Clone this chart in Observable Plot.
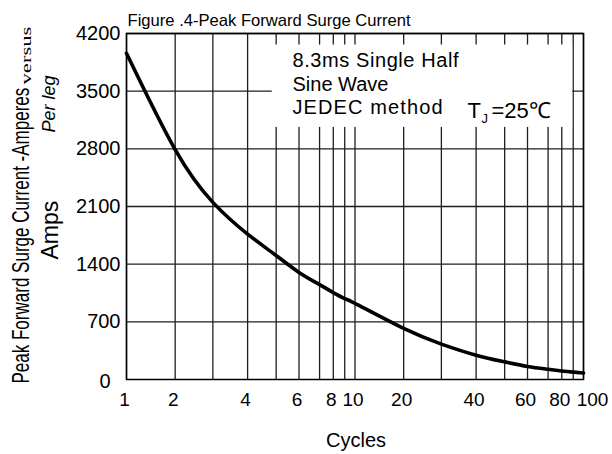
<!DOCTYPE html>
<html><head><meta charset="utf-8">
<script src="https://cdn.jsdelivr.net/npm/d3@7"></script>
<script src="https://cdn.jsdelivr.net/npm/@observablehq/plot@0.6"></script>
<style>body{margin:0;background:#fff}#chart svg{display:block}</style>
</head><body><div id="chart"></div>
<script>
// ---- data ----
const cycles = [1, 2, 3, 4, 5, 6, 7, 8, 9, 10, 20, 30, 40, 50, 60, 70, 80, 90, 100];
const amps   = [3960, 2790, 2150, 1765, 1505, 1300, 1152, 1055, 982, 925, 620, 430, 295, 214, 159, 125, 104, 90, 79];
const xGridTicks = [1, 2, 3, 4, 5, 6, 7, 8, 9, 10, 20, 30, 40, 50, 60, 70, 80, 90, 100];
const xTickLabels = [1, 2, 4, 6, 8, 10, 20, 40, 60, 80];
const xLastLabel = [100];
const yTicks = [700, 1400, 2100, 2800, 3500, 4200];
const yZero = [0];
const titleText = "Figure .4-Peak Forward Surge Current";
const yLabelMain = "Peak Forward Surge Current -Amperes";
const yLabelVs = "versus";
const yLabel2 = "Per leg";
const yLabel3 = "Amps";
const xLabel = "Cycles";
const noteLines = ["8.3ms Single Half", "Sine Wave", "JEDEC method"];
const noteBox = [{x1: 4.85, x2: 89.5, y1: 3060, y2: 4060}];

// ---- layout / scale config ----
const W = 612, H = 454, mL = 126, mR = 29, mT = 33, mB = 75;
const decadeW = (W - mL - mR) / 2;
// the reference's cycle-axis spacing inside each decade (fraction of a decade)
const decadeFrac = [0, 0.213, 0.378, 0.53, 0.655, 0.755, 0.845, 0.905, 0.955];
const xRange = xGridTicks.map(v => {
  const d = Math.floor(Math.log10(v) + 1e-9);
  const m = Math.round(v / 10 ** d);
  return mL + (d + decadeFrac[m - 1]) * decadeW;
});

const sans = "'Liberation Sans', Arial, Helvetica, sans-serif";
const gridStyle = {stroke: "#1e1e1e", strokeOpacity: 1, strokeWidth: 1.3};
const txt = (s, o) => Plot.text([s], {text: d => d, fill: "black", lineAnchor: "bottom", ...o});

const rows = cycles.map((c, i) => ({c, a: amps[i]}));

const chart = Plot.plot({
  width: W, height: H, marginLeft: mL, marginRight: mR, marginTop: mT, marginBottom: mB,
  style: {fontFamily: sans, background: "white", color: "black", overflow: "visible"},
  x: {type: "log", domain: xGridTicks, range: xRange, axis: null},
  y: {domain: [0, 4200], axis: null},
  marks: [
    Plot.gridX(xGridTicks, gridStyle),
    Plot.gridY(yTicks, gridStyle),
    Plot.rect(noteBox, {x1: "x1", x2: "x2", y1: "y1", y2: "y2", fill: "white"}),
    Plot.frame({stroke: "black", strokeWidth: 1.5}),
    Plot.line(rows, {x: "c", y: "a", stroke: "black", strokeWidth: 3.6, curve: "natural"}),
    Plot.axisY(yTicks, {tickSize: 0, tickPadding: 6, fontSize: 20, tickFormat: d => String(d), label: null}),
    Plot.axisY(yZero, {tickSize: 0, tickPadding: 16, fontSize: 20, dy: 2, tickFormat: d => String(d), label: null}),
    Plot.text(xTickLabels, {x: d => d, text: d => String(d), frameAnchor: "bottom", lineAnchor: "bottom", dy: 26, dx: -2, fontSize: 19, fill: "black"}),
    Plot.text(xLastLabel, {x: d => d, text: d => String(d), frameAnchor: "bottom", lineAnchor: "bottom", dy: 26, dx: 9, fontSize: 19, fill: "black"}),
    txt(titleText, {frameAnchor: "top-left", dx: 1, dy: -8, fontSize: 16.6, textAnchor: "start"}),
    txt(xLabel, {frameAnchor: "bottom", dx: 1, dy: 67, fontSize: 20}),
    txt(yLabelMain, {frameAnchor: "bottom-left", dx: -98, dy: 4, rotate: -90, fontSize: 23, textAnchor: "start"}),
    txt(yLabelVs, {frameAnchor: "bottom-left", dx: -96, dy: -295, rotate: -90, fontSize: 15, textAnchor: "start", fontFamily: "'Liberation Serif', 'Times New Roman', serif"}),
    txt(yLabel2, {frameAnchor: "bottom-left", dx: -72, dy: -247, rotate: -90, fontSize: 18, fontStyle: "italic"}),
    txt(yLabel3, {frameAnchor: "bottom-left", dx: -69, dy: -120, rotate: -90, fontSize: 23}),
    txt(noteLines[0], {frameAnchor: "top-left", dx: 166, dy: 33, fontSize: 20, textAnchor: "start"}),
    txt(noteLines[1], {frameAnchor: "top-left", dx: 166, dy: 57, fontSize: 20, textAnchor: "start"}),
    txt(noteLines[2], {frameAnchor: "top-left", dx: 166, dy: 80, fontSize: 20, textAnchor: "start"}),
    txt("T", {frameAnchor: "top-left", dx: 341, dy: 84, fontSize: 22, textAnchor: "start"}),
    txt("J", {frameAnchor: "top-left", dx: 355, dy: 89, fontSize: 13, textAnchor: "start"}),
    txt("=25\u2103", {frameAnchor: "top-left", dx: 365, dy: 84, fontSize: 22, textAnchor: "start"})
  ]
});

document.getElementById("chart").append(chart);

// condensed rotated axis title and wider note lines, as in the reference
const squeeze = {[yLabelMain]: 296, [yLabelVs]: 58};
const spread = {[noteLines[0]]: 166, [noteLines[2]]: 150};
d3.select(chart).selectAll("text").each(function () {
  const s = this.textContent;
  if (squeeze[s]) {
    const k = squeeze[s] / this.getComputedTextLength();
    const t = this.getAttribute("transform") || "";
    this.setAttribute("transform", t + ` scale(${k},1)`);
  }
  if (spread[s]) {
    this.setAttribute("textLength", spread[s]);
    this.setAttribute("lengthAdjust", "spacing");
  }
});
</script>
</body></html>
